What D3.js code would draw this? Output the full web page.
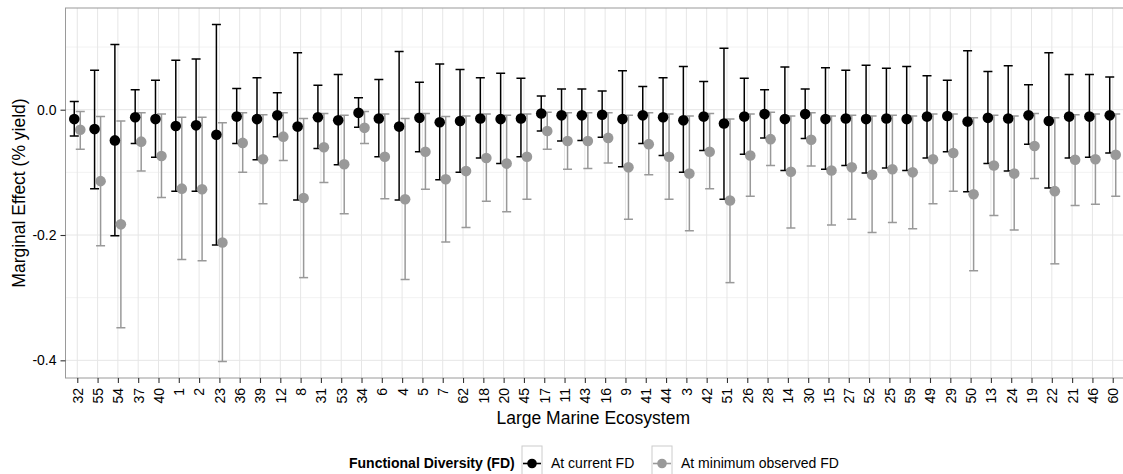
<!DOCTYPE html>
<html>
<head>
<meta charset="utf-8">
<script src="https://cdn.jsdelivr.net/npm/d3@7"></script>
<style>
  html, body { margin: 0; padding: 0; background: #fff; }
  svg { display: block; font-family: "Liberation Sans", Arial, Helvetica, sans-serif; }
</style>
</head>
<body>
<svg id="chart" width="1123" height="474"></svg>
<script>
// Large Marine Ecosystems, in plotting order
const categories = ["32","55","54","37","40","1","2","23","36","39","12","8","31","53","34","6","4","5","7","62","18","20","45","17","11","43","16","9","41","44","3","42","51","26","28","14","30","15","27","52","25","59","49","29","50","13","24","19","22","21","46","60"];

// Marginal effect at current functional diversity
const currentMean = [-0.015,-0.031,-0.049,-0.012,-0.015,-0.026,-0.025,-0.040,-0.011,-0.015,-0.009,-0.027,-0.012,-0.017,-0.005,-0.014,-0.027,-0.013,-0.020,-0.018,-0.014,-0.015,-0.014,-0.006,-0.009,-0.009,-0.008,-0.015,-0.009,-0.012,-0.017,-0.011,-0.022,-0.011,-0.007,-0.015,-0.007,-0.015,-0.014,-0.015,-0.014,-0.015,-0.011,-0.010,-0.019,-0.013,-0.014,-0.009,-0.018,-0.011,-0.011,-0.009];
const currentHigh = [0.013,0.063,0.104,0.032,0.047,0.079,0.081,0.136,0.034,0.051,0.027,0.091,0.039,0.056,0.019,0.048,0.093,0.044,0.073,0.064,0.051,0.058,0.050,0.022,0.033,0.033,0.030,0.062,0.037,0.051,0.069,0.045,0.098,0.050,0.032,0.068,0.033,0.067,0.063,0.071,0.066,0.069,0.054,0.047,0.094,0.061,0.070,0.040,0.091,0.056,0.056,0.052];
const currentLow = [-0.042,-0.126,-0.201,-0.054,-0.076,-0.130,-0.130,-0.216,-0.054,-0.080,-0.043,-0.144,-0.062,-0.088,-0.028,-0.075,-0.144,-0.067,-0.112,-0.100,-0.077,-0.086,-0.075,-0.034,-0.050,-0.049,-0.044,-0.091,-0.054,-0.073,-0.100,-0.065,-0.143,-0.071,-0.045,-0.097,-0.046,-0.095,-0.089,-0.101,-0.093,-0.097,-0.077,-0.067,-0.131,-0.086,-0.098,-0.055,-0.125,-0.077,-0.076,-0.069];

// Marginal effect at minimum observed functional diversity
const minMean = [-0.032,-0.114,-0.183,-0.051,-0.074,-0.126,-0.127,-0.212,-0.053,-0.079,-0.043,-0.141,-0.060,-0.087,-0.029,-0.075,-0.143,-0.067,-0.111,-0.098,-0.077,-0.086,-0.075,-0.034,-0.050,-0.050,-0.045,-0.092,-0.055,-0.075,-0.102,-0.067,-0.145,-0.073,-0.047,-0.099,-0.048,-0.097,-0.092,-0.104,-0.095,-0.100,-0.079,-0.069,-0.135,-0.089,-0.102,-0.058,-0.130,-0.080,-0.079,-0.072];
const minHigh = [-0.003,-0.011,-0.018,-0.005,-0.007,-0.012,-0.012,-0.021,-0.005,-0.008,-0.005,-0.014,-0.006,-0.009,-0.003,-0.007,-0.014,-0.006,-0.011,-0.010,-0.007,-0.009,-0.007,-0.004,-0.005,-0.005,-0.005,-0.009,-0.005,-0.007,-0.010,-0.006,-0.015,-0.007,-0.004,-0.010,-0.005,-0.010,-0.009,-0.010,-0.009,-0.010,-0.007,-0.007,-0.013,-0.009,-0.010,-0.006,-0.013,-0.008,-0.007,-0.007];
const minLow = [-0.063,-0.217,-0.348,-0.098,-0.140,-0.239,-0.241,-0.402,-0.100,-0.150,-0.081,-0.268,-0.116,-0.166,-0.054,-0.142,-0.271,-0.127,-0.211,-0.188,-0.146,-0.163,-0.143,-0.063,-0.095,-0.094,-0.085,-0.175,-0.104,-0.143,-0.193,-0.126,-0.276,-0.138,-0.089,-0.189,-0.090,-0.184,-0.175,-0.196,-0.180,-0.190,-0.150,-0.130,-0.257,-0.169,-0.192,-0.110,-0.246,-0.153,-0.151,-0.138];

const yMajorTicks = [-0.4, -0.2, 0.0];
const yMinorTicks = [-0.3, -0.1, 0.1];
const yTickLabels = ["-0.4", "-0.2", "0.0"];

const seriesNames = ["At current FD", "At minimum observed FD"];
const legendTitle = "Functional Diversity (FD)";

const series = [
  { name: seriesNames[0], color: "#000000", dodge: -3, mean: currentMean, low: currentLow, high: currentHigh },
  { name: seriesNames[1], color: "#999999", dodge: 3, mean: minMean, low: minLow, high: minHigh }
];

const svg = d3.select("#chart");
const panel = { left: 65.5, right: 1124.5, top: 8, bottom: 378 };

const x = d3.scalePoint().domain(categories).range([panel.left, panel.right]).padding(0.58);
const y = d3.scaleLinear().domain([-0.4282, 0.1623]).range([panel.bottom, panel.top]);

const defs = svg.append("defs");
defs.append("clipPath").attr("id", "panel-clip")
  .append("rect")
  .attr("x", panel.left).attr("y", panel.top)
  .attr("width", panel.right - panel.left).attr("height", panel.bottom - panel.top);

// grid
const grid = svg.append("g");
grid.selectAll("line.minor").data(yMinorTicks).join("line")
  .attr("x1", panel.left).attr("x2", panel.right)
  .attr("y1", d => y(d)).attr("y2", d => y(d))
  .attr("stroke", "#f2f2f2").attr("stroke-width", 1);
grid.selectAll("line.majory").data(yMajorTicks).join("line")
  .attr("x1", panel.left).attr("x2", panel.right)
  .attr("y1", d => y(d)).attr("y2", d => y(d))
  .attr("stroke", "#e6e6e6").attr("stroke-width", 1);
grid.selectAll("line.majorx").data(categories).join("line")
  .attr("x1", d => x(d)).attr("x2", d => x(d))
  .attr("y1", panel.top).attr("y2", panel.bottom)
  .attr("stroke", "#e6e6e6").attr("stroke-width", 1);

// marks: error bars first, points on top
const marks = svg.append("g").attr("clip-path", "url(#panel-clip)");
const capHalf = 4.5;
const barWidth = 1.5;

series.forEach(s => {
  const g = marks.append("g");
  const rows = categories.map((c, i) => ({ c, lo: s.low[i], hi: s.high[i] }));
  g.selectAll("line.stem").data(rows).join("line")
    .attr("x1", d => x(d.c) + s.dodge).attr("x2", d => x(d.c) + s.dodge)
    .attr("y1", d => y(d.hi)).attr("y2", d => y(d.lo))
    .attr("stroke", s.color).attr("stroke-width", barWidth);
  g.selectAll("line.capHi").data(rows).join("line")
    .attr("x1", d => x(d.c) + s.dodge - capHalf).attr("x2", d => x(d.c) + s.dodge + capHalf)
    .attr("y1", d => y(d.hi)).attr("y2", d => y(d.hi))
    .attr("stroke", s.color).attr("stroke-width", barWidth);
  g.selectAll("line.capLo").data(rows).join("line")
    .attr("x1", d => x(d.c) + s.dodge - capHalf).attr("x2", d => x(d.c) + s.dodge + capHalf)
    .attr("y1", d => y(d.lo)).attr("y2", d => y(d.lo))
    .attr("stroke", s.color).attr("stroke-width", barWidth);
});

series.forEach(s => {
  marks.append("g").selectAll("circle").data(categories.map((c, i) => ({ c, v: s.mean[i] }))).join("circle")
    .attr("cx", d => x(d.c) + s.dodge)
    .attr("cy", d => y(d.v))
    .attr("r", 5.3)
    .attr("fill", s.color);
});

// panel border
svg.append("rect")
  .attr("x", panel.left).attr("y", panel.top)
  .attr("width", panel.right - panel.left).attr("height", panel.bottom - panel.top)
  .attr("fill", "none").attr("stroke", "#9a9a9a").attr("stroke-width", 1);

// y axis
const yAxis = d3.axisLeft(y).tickValues(yMajorTicks).tickSize(5).tickPadding(4)
  .tickFormat((d, i) => yTickLabels[i]);
const yg = svg.append("g").attr("transform", `translate(${panel.left},0)`).call(yAxis);
yg.select(".domain").remove();
yg.selectAll(".tick line").attr("stroke", "#333").attr("stroke-width", 1.1);
yg.selectAll(".tick text").attr("font-size", 14).attr("fill", "#000")
  .attr("font-family", '"Liberation Sans", Arial, sans-serif');

// x axis
const xAxis = d3.axisBottom(x).tickSize(5).tickPadding(4);
const xg = svg.append("g").attr("transform", `translate(0,${panel.bottom})`).call(xAxis);
xg.select(".domain").remove();
xg.selectAll(".tick line").attr("stroke", "#333").attr("stroke-width", 1.1);
xg.selectAll(".tick text")
  .attr("font-size", 14).attr("fill", "#000")
  .attr("font-family", '"Liberation Sans", Arial, sans-serif')
  .attr("transform", "rotate(-90)")
  .attr("x", -10).attr("y", 0).attr("dy", "0.35em")
  .attr("text-anchor", "end");

// axis titles
svg.append("text")
  .attr("x", (panel.left + 1123) / 2 - 1).attr("y", 424)
  .attr("text-anchor", "middle").attr("font-size", 17.5).attr("fill", "#000")
  .text("Large Marine Ecosystem");
svg.append("text")
  .attr("transform", `translate(25,${(panel.top + panel.bottom) / 2}) rotate(-90)`)
  .attr("text-anchor", "middle").attr("font-size", 17.5).attr("fill", "#000")
  .text("Marginal Effect (% yield)");

// legend
const legend = svg.append("g");
legend.append("text")
  .attr("x", 349).attr("y", 468)
  .attr("font-size", 14).attr("font-weight", "bold").attr("fill", "#000")
  .text(legendTitle);

const keyX = [522, 652];
const keyW = 20;
const labelX = [551, 681];
series.forEach((s, i) => {
  const kg = legend.append("g");
  kg.append("rect")
    .attr("x", keyX[i]).attr("y", 446).attr("width", keyW).attr("height", 40)
    .attr("fill", "#fff").attr("stroke", "#cccccc").attr("stroke-width", 1);
  kg.append("line")
    .attr("x1", keyX[i] + 1).attr("x2", keyX[i] + keyW - 1)
    .attr("y1", 463.5).attr("y2", 463.5)
    .attr("stroke", s.color).attr("stroke-width", 1.6);
  kg.append("circle")
    .attr("cx", keyX[i] + keyW / 2).attr("cy", 463.5).attr("r", 4.8)
    .attr("fill", s.color);
  kg.append("text")
    .attr("x", labelX[i]).attr("y", 468)
    .attr("font-size", 14).attr("fill", "#000")
    .text(s.name);
});
</script>
</body>
</html>
